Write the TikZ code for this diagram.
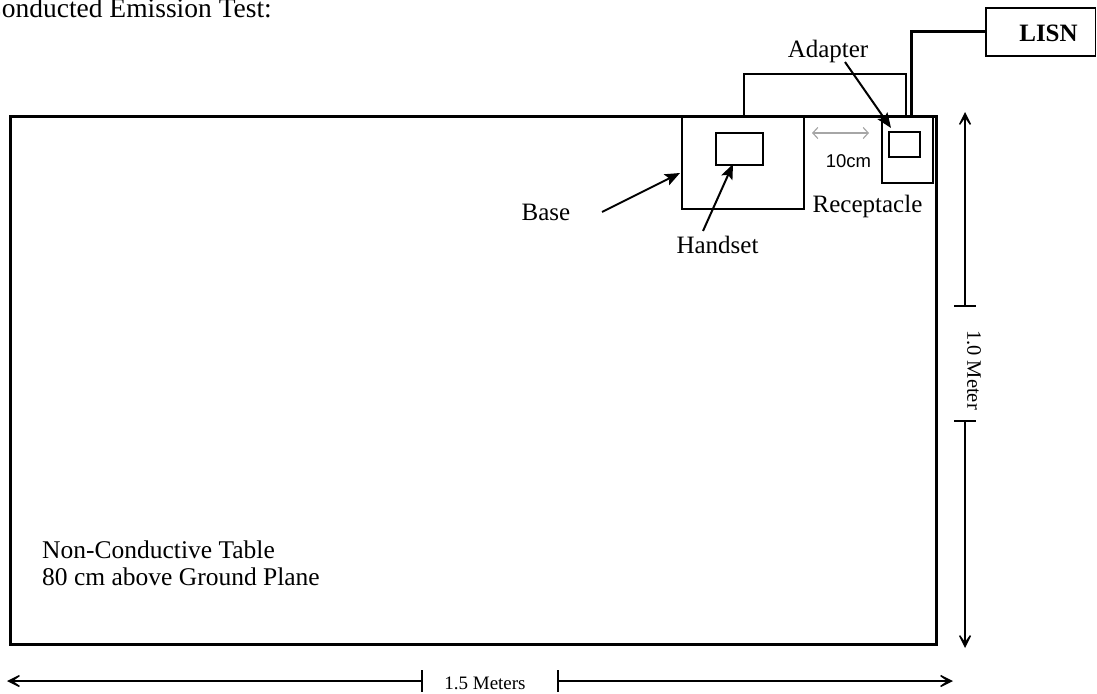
\documentclass[tikz,border=0pt]{standalone}
\usepackage{fontspec}
\setmainfont{Liberation Serif}
\newfontfamily\arialfont{Liberation Sans}
\usetikzlibrary{arrows.meta,calc}
\begin{document}
\begin{tikzpicture}[x=1pt,y=-1pt,
  box/.style={draw, inner sep=0pt, outer sep=0pt, anchor=north west, line width=1.5pt},
  lbl/.style={inner sep=0pt, font=\fontsize{25}{28}\selectfont},
  dimarrow/.style={line width=1.4pt, -{Stealth[length=20pt,width=20pt,inset=14pt]}},
  ptr/.style={line width=2pt, -{Stealth[length=15pt,width=12pt,inset=3pt]}},
  tickline/.style={line width=1.4pt},
  cable/.style={line width=1.5pt},
  thickcable/.style={line width=3pt}]
\useasboundingbox (0,0) rectangle (1097,693);

% title
\node[lbl, anchor=base east, font=\fontsize{27.5}{30}\selectfont] (title) at (272,18) {Conducted Emission Test:};

% table
\node[box, line width=3pt, minimum width=926pt, minimum height=528pt] (table) at (10,116) {};
\node[lbl, anchor=base west, align=left, font=\fontsize{25.5}{27}\selectfont] (tablelbl) at (42,585) {Non-Conductive Table\\80 cm above Ground Plane};

% base and handset
\node[box, minimum width=122pt, minimum height=93pt] (base) at (682,116) {};
\node[box, minimum width=47pt, minimum height=32pt] (handset) at (716,133) {};

% receptacle and adapter
\node[box, minimum width=51pt, minimum height=67pt] (recept) at (882,116) {};
\node[box, minimum width=31pt, minimum height=25pt] (adapter) at (889,132) {};

% LISN
\node[box, minimum width=109.5pt, minimum height=48pt] (lisn) at (986,8) {};
\node[lbl, anchor=base, font=\fontsize{25}{28}\selectfont\bfseries] (lisnlbl) at (1048.5,42) {LISN};

% cables
\coordinate (cabA) at (744,116);
\coordinate (cabB) at (906,116);
\draw[cable] (cabA) -- (744,74) -| (cabB);
\coordinate (lisnA) at (911,117);
\draw[thickcable] (lisnA) |- (lisn.west);

% labels with pointers
\node[lbl, anchor=base] (adaptlbl) at (828,57) {Adapter};
\coordinate (adS) at (845,62);
\coordinate (adT) at (891,128);
\draw[ptr] (adS) -- (adT);

\node[lbl, anchor=base] (baselbl) at (546,220) {Base};
\coordinate (bS) at (602,212);
\coordinate (bT) at (680,173);
\draw[ptr] (bS) -- (bT);

\node[lbl, anchor=base] (handlbl) at (717.5,253) {Handset};
\coordinate (hS) at (703,231);
\coordinate (hT) at (733,164);
\draw[ptr] (hS) -- (hT);

\node[lbl, anchor=base] (reclbl) at (867.5,212) {Receptacle};

% 10 cm
\coordinate (gA) at (812,133);
\coordinate (gB) at (869,133);
\draw[gray!70, line width=1.2pt, {Straight Barb[length=5pt,width=11pt]}-{Straight Barb[length=5pt,width=11pt]}] (gA) -- (gB);
\node[inner sep=0pt, anchor=base, font=\fontsize{18.5}{20}\arialfont] (tencm) at (848.5,167) {10cm};

% vertical dimension
\coordinate (vTop) at (965,112);
\coordinate (vT1) at (965,306);
\coordinate (vT2) at (965,421);
\coordinate (vBot) at (965,648);
\draw[dimarrow] (vT1) -- (vTop);
\draw[dimarrow] (vT2) -- (vBot);
\draw[tickline] ($(vT1)+(-11,0)$) -- ($(vT1)+(11,0)$);
\draw[tickline] ($(vT2)+(-11,0)$) -- ($(vT2)+(11,0)$);
\node[inner sep=0pt, rotate=-90, font=\fontsize{20.5}{22}\selectfont] (vlbl) at (974,370) {1.0 Meter};

% horizontal dimension
\coordinate (hL) at (7,681);
\coordinate (hB1) at (422,681);
\coordinate (hB2) at (558,681);
\coordinate (hR) at (953,681);
\draw[dimarrow] (hB1) -- (hL);
\draw[dimarrow] (hB2) -- (hR);
\draw[tickline] ($(hB1)+(0,-11)$) -- ($(hB1)+(0,11)$);
\draw[tickline] ($(hB2)+(0,-11)$) -- ($(hB2)+(0,11)$);
\node[inner sep=0pt, anchor=base, font=\fontsize{19}{21}\selectfont] (hlbl) at (485,689) {1.5 Meters};
\end{tikzpicture}
\end{document}
